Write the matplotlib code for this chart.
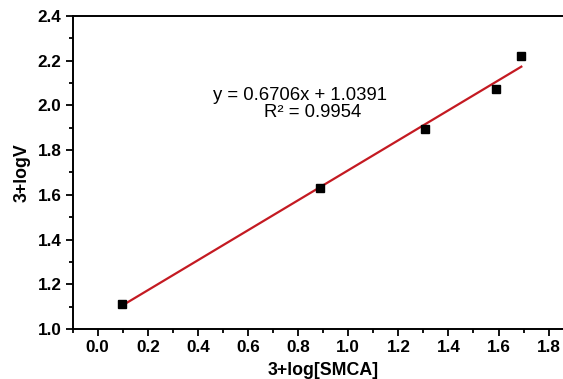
import matplotlib
matplotlib.use('Agg')
import matplotlib.pyplot as plt
from matplotlib.ticker import MultipleLocator
import numpy as np

plt.rcParams['font.family'] = ['Liberation Sans', 'DejaVu Sans']

# data
log_smca = [0.096, 0.889, 1.306, 1.590, 1.691]
log_v = [1.112, 1.629, 1.893, 2.073, 2.221]
slope = 0.6706
intercept = 1.0391
eq_text = 'y = 0.6706x + 1.0391'
r2_text = 'R² = 0.9954'

fig = plt.figure(figsize=(5.63, 3.79), dpi=100)
ax = fig.add_axes([0.129, 0.132, 0.890, 0.826])

# linear fit over the data range
fx = np.array([min(log_smca), max(log_smca)])
ax.plot(fx, slope * fx + intercept, color='#c41a22', lw=1.6, zorder=2)
ax.plot(log_smca, log_v, 's', color='black', ms=6.3, zorder=3)

ax.set_xlim(-0.1, 1.9)
ax.set_ylim(1.0, 2.4)
ax.xaxis.set_minor_locator(MultipleLocator(0.1))
ax.yaxis.set_major_locator(MultipleLocator(0.2))
ax.yaxis.set_minor_locator(MultipleLocator(0.1))
ax.set_xticks(np.arange(0, 1.81, 0.2))
ax.xaxis.set_major_formatter(plt.FuncFormatter(lambda v, p: f'{v:.1f}'))
ax.yaxis.set_major_formatter(plt.FuncFormatter(lambda v, p: f'{v:.1f}'))

ax.tick_params(which='both', direction='out', width=1.3)
ax.tick_params(which='major', length=5, labelsize=12.3, pad=3)
ax.tick_params(which='minor', length=3)
for lab in ax.get_xticklabels() + ax.get_yticklabels():
    lab.set_fontweight('bold')
for s in ax.spines.values():
    s.set_linewidth(1.4)

ax.set_xlabel('3+log[SMCA]', fontsize=12.8, fontweight='bold', labelpad=5)
ax.set_ylabel('3+logV', fontsize=12.8, fontweight='bold', labelpad=5)

ax.text(0.809, 2.046, eq_text, fontsize=13.3, ha='center', va='center')
ax.text(0.857, 1.966, r2_text, fontsize=13.3, ha='center', va='center')

fig.savefig('out.png', dpi=100)
